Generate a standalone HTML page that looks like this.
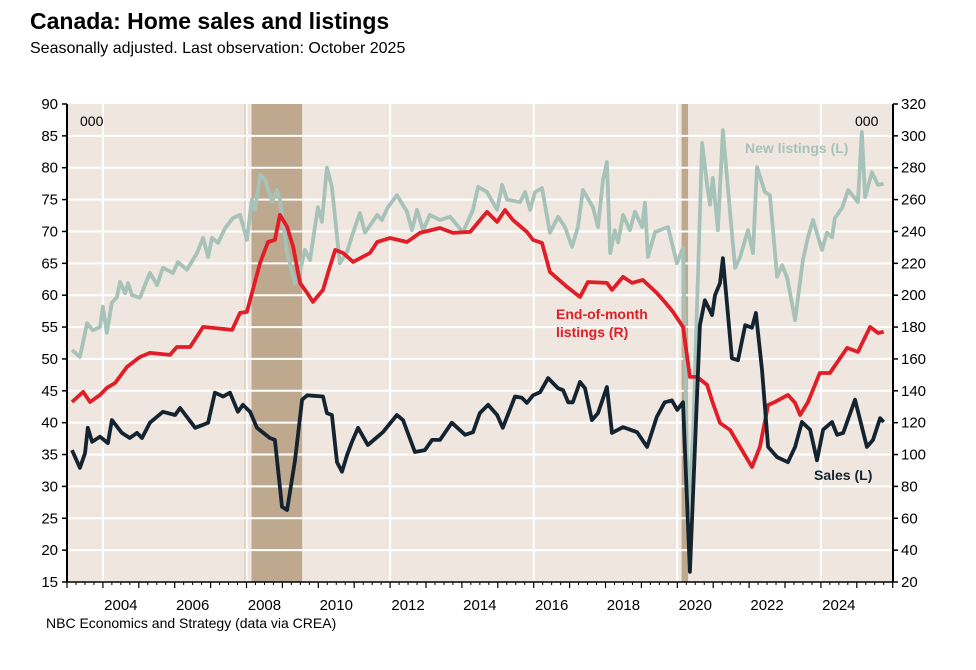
<!DOCTYPE html>
<html><head><meta charset="utf-8"><style>
body{margin:0;background:#fff;width:976px;height:670px;overflow:hidden;font-family:"Liberation Sans",Arial,sans-serif}
#title{position:absolute;left:30px;top:8px;font-size:23px;font-weight:bold;color:#000}
#sub{position:absolute;left:30px;top:40px;font-size:16px;color:#000}
svg{position:absolute;left:0;top:0}
</style></head><body>
<div id="title">Canada: Home sales and listings</div>
<div id="sub">Seasonally adjusted. Last observation: October 2025</div>
<svg id="c" width="976" height="670"></svg>
<script>
const xTickYears=[2004,2006,2008,2010,2012,2014,2016,2018,2020,2022,2024];
const leftTicks=[15,20,25,30,35,40,45,50,55,60,65,70,75,80,85,90];
const rightTicks=[20,40,60,80,100,120,140,160,180,200,220,240,260,280,300,320];
const recessions=[[2007.95,2008.0],[2008.14,2009.55],[2020.12,2020.3]];
const newDates=[2003.14,2003.36,2003.56,2003.72,2003.92,2004.00,2004.11,2004.25,2004.39,2004.48,2004.62,2004.70,2004.81,2005.03,2005.31,2005.51,2005.67,2005.95,2006.09,2006.34,2006.62,2006.79,2006.93,2007.04,2007.21,2007.40,2007.62,2007.82,2008.01,2008.15,2008.24,2008.38,2008.52,2008.71,2008.85,2008.93,2009.13,2009.35,2009.43,2009.63,2009.77,2009.99,2010.10,2010.24,2010.38,2010.60,2010.80,2010.97,2011.16,2011.30,2011.64,2011.77,2011.94,2012.19,2012.47,2012.61,2012.75,2012.92,2013.11,2013.39,2013.67,2014.03,2014.31,2014.45,2014.70,2014.98,2015.12,2015.26,2015.62,2015.76,2015.90,2016.04,2016.23,2016.45,2016.68,2016.87,2017.07,2017.23,2017.37,2017.65,2017.79,2017.93,2018.04,2018.13,2018.26,2018.35,2018.49,2018.68,2018.82,2019.02,2019.10,2019.18,2019.38,2019.74,2019.99,2020.16,2020.30,2020.44,2020.69,2020.83,2020.91,2020.99,2021.13,2021.27,2021.47,2021.61,2021.75,2021.97,2022.11,2022.22,2022.44,2022.58,2022.78,2022.92,2023.06,2023.28,2023.50,2023.64,2023.78,2024.03,2024.17,2024.31,2024.39,2024.59,2024.76,2025.03,2025.14,2025.23,2025.42,2025.59,2025.75];
const newListings=[51.4,50.3,55.6,54.5,55.0,58.2,54.1,58.8,59.7,62.1,60.3,61.9,60.0,59.6,63.5,61.6,64.3,63.5,65.2,64.0,66.6,69.0,66.0,69.0,68.2,70.5,72.1,72.6,68.7,75.0,73.4,78.9,78.1,74.6,76.5,75.0,66.6,61.9,62.4,67.1,65.5,73.8,71.5,80.0,77.0,65.0,66.8,69.8,72.9,69.8,72.6,71.8,73.8,75.7,73.1,70.2,73.4,70.2,72.6,71.8,72.3,69.9,73.4,77.0,76.2,73.4,77.3,75.0,74.6,76.2,73.4,76.2,76.8,69.8,72.3,70.7,67.6,70.7,76.5,73.8,70.7,78.1,80.9,66.6,70.2,68.3,72.6,70.2,73.1,70.7,74.5,66.0,69.9,70.7,65.0,67.4,25.8,38.4,83.9,77.3,74.2,78.4,70.2,85.9,72.9,64.3,66.0,70.2,66.6,80.1,76.2,75.7,62.9,64.7,62.7,56.1,65.5,69.1,71.8,67.1,69.8,69.1,72.1,73.7,76.5,74.6,85.6,75.4,79.3,77.3,77.5];
const eomDates=[2003.14,2003.45,2003.64,2003.92,2004.11,2004.34,2004.67,2005.03,2005.31,2005.87,2006.06,2006.43,2006.79,2007.60,2007.82,2008.01,2008.38,2008.60,2008.79,2008.93,2009.13,2009.30,2009.49,2009.69,2009.85,2010.13,2010.27,2010.47,2010.69,2010.97,2011.44,2011.64,2012.00,2012.47,2012.83,2013.39,2013.75,2014.23,2014.70,2014.98,2015.20,2015.42,2015.81,2015.98,2016.23,2016.45,2016.93,2017.29,2017.51,2018.04,2018.18,2018.49,2018.74,2019.04,2019.43,2019.65,2019.88,2020.16,2020.35,2020.55,2020.83,2020.99,2021.19,2021.47,2021.75,2022.08,2022.30,2022.53,2022.72,2023.08,2023.28,2023.42,2023.64,2023.97,2024.25,2024.73,2025.03,2025.37,2025.59,2025.75];
const eomListings=[133.0,139.3,133.0,137.4,141.8,144.9,155.0,161.2,163.8,162.5,167.5,167.5,180.1,178.2,188.9,189.5,220.3,233.4,234.7,250.4,242.9,230.3,207.7,201.4,195.8,203.3,214.0,228.4,226.5,220.9,226.5,233.4,235.9,233.4,239.1,242.2,239.1,239.7,252.3,246.0,253.5,247.2,239.7,234.7,232.8,214.6,205.2,198.9,208.3,207.7,203.3,211.5,207.7,209.6,201.4,195.8,189.5,180.1,148.7,148.7,143.7,132.4,119.8,115.4,104.7,92.2,104.7,131.1,133.0,137.4,132.4,124.8,133.0,151.2,151.2,166.9,164.4,180.1,176.3,177.0];
const salesDates=[2003.14,2003.36,2003.50,2003.58,2003.70,2003.92,2004.14,2004.25,2004.53,2004.75,2004.95,2005.09,2005.31,2005.67,2006.01,2006.15,2006.57,2006.76,2006.93,2007.12,2007.35,2007.54,2007.76,2007.90,2008.10,2008.29,2008.65,2008.79,2008.99,2009.13,2009.35,2009.55,2009.69,2010.13,2010.24,2010.38,2010.52,2010.66,2010.80,2010.94,2011.11,2011.38,2011.80,2012.19,2012.36,2012.69,2012.97,2013.17,2013.39,2013.72,2014.09,2014.31,2014.50,2014.73,2014.98,2015.14,2015.48,2015.67,2015.81,2015.98,2016.18,2016.40,2016.68,2016.82,2016.96,2017.09,2017.29,2017.43,2017.62,2017.79,2018.04,2018.18,2018.49,2018.88,2019.16,2019.43,2019.65,2019.85,2020.00,2020.16,2020.35,2020.63,2020.77,2020.97,2021.05,2021.19,2021.27,2021.52,2021.69,2021.89,2022.08,2022.19,2022.36,2022.53,2022.78,2023.08,2023.28,2023.47,2023.70,2023.89,2024.06,2024.31,2024.45,2024.62,2024.95,2025.28,2025.45,2025.65,2025.75];
const sales=[35.7,32.9,35.2,39.2,37.0,37.8,36.8,40.4,38.4,37.6,38.4,37.6,40.0,41.7,41.2,42.3,39.2,39.6,40.0,44.7,44.1,44.7,41.7,42.8,41.7,39.2,37.6,37.3,26.8,26.3,34.1,43.6,44.3,44.1,41.5,41.2,33.8,32.3,34.9,37.0,39.2,36.5,38.5,41.2,40.4,35.4,35.7,37.3,37.3,40.0,38.1,38.5,41.5,42.8,41.2,39.2,44.1,43.9,43.1,44.3,44.8,47.0,45.4,45.1,43.2,43.2,46.4,45.4,40.4,41.5,45.6,38.4,39.3,38.5,36.2,40.9,43.2,43.5,42.0,43.2,16.6,55.3,59.2,56.9,60.0,61.9,65.8,50.1,49.8,55.3,54.9,57.2,48.3,36.2,34.6,33.8,36.2,40.1,38.9,34.1,38.9,40.1,38.1,38.4,43.6,36.2,37.3,40.7,40.1];

const L=67,R=893,T=104,B=582;
const X=t=>L+(t-2003)*35.9;
const YL=v=>B-(v-15)*(B-T)/75;
const YR=v=>B-(v-20)*(B-T)/300;
const NS='http://www.w3.org/2000/svg';
const svg=document.getElementById('c');
function mk(tag,attrs,parent){const e=document.createElementNS(NS,tag);for(const k in attrs)e.setAttribute(k,attrs[k]);(parent||svg).appendChild(e);return e;}
function txt(s,attrs){const e=mk('text',attrs);e.textContent=s;return e;}

let bg=mk('rect',{x:L,y:T,width:R-L,height:B-T,fill:'#efe7df'});


recessions.forEach(r=>{
  const e=mk('rect',{x:X(r[0]),y:T,width:X(r[1])-X(r[0]),height:B-T,fill:'#bea98f'});
  
  
});
leftTicks.forEach(v=>{
  if(v>15&&v<90){const g=mk('line',{x1:L,x2:R,y1:YL(v),y2:YL(v),stroke:'#fff','stroke-width':2});
  
  }
  const t=txt(String(v),{x:L-9,y:YL(v)+5,'text-anchor':'end','font-size':15,fill:'#000'});
  
  
  mk('line',{x1:L-5,x2:L,y1:YL(v),y2:YL(v),stroke:'#000','stroke-width':1.5});
});
rightTicks.forEach(v=>{
  const t=txt(String(v),{x:R+8,y:YR(v)+5,'text-anchor':'start','font-size':15,fill:'#000'});
  
  
  mk('line',{x1:R,x2:R+5,y1:YR(v),y2:YR(v),stroke:'#000','stroke-width':1.5});
});
[2004,2008,2012,2016,2020,2024].forEach(y=>{
  const g=mk('line',{x1:X(y),x2:X(y),y1:T,y2:B,stroke:'#fff','stroke-width':2});
  
  
});
for(let y=2003;y<=2026;y++){
  mk('line',{x1:X(y),x2:X(y),y1:B,y2:B+6,stroke:'#000','stroke-width':1.2});
  for(let q=1;q<4;q++){if(y<2026)mk('line',{x1:X(y+q/4),x2:X(y+q/4),y1:B,y2:B+3,stroke:'#000','stroke-width':1});}
}
xTickYears.forEach(y=>{
  const t=txt(String(y),{x:X(y+0.5),y:B+28,'text-anchor':'middle','font-size':15,fill:'#000'});
  
  
});
mk('line',{x1:L,x2:R,y1:B,y2:B,stroke:'#000','stroke-width':1.5});
mk('line',{x1:L,x2:L,y1:T,y2:B,stroke:'#000','stroke-width':2});
mk('line',{x1:R,x2:R,y1:T,y2:B,stroke:'#000','stroke-width':2});

function series(d,v,yf,color,name){
  const p=d.map((t,i)=>(i?'L':'M')+X(t).toFixed(1)+','+yf(v[i]).toFixed(1)).join('');
  const e=mk('path',{d:p,fill:'none',stroke:color,'stroke-width':3.8,'stroke-linejoin':'round'});
  
  
}
series(newDates,newListings,YL,'#a7c2b8','new-listings-line');
series(eomDates,eomListings,YR,'#e11d27','end-of-month-listings-line');
series(salesDates,sales,YL,'#142330','sales-line');

let a=txt('000',{x:80,y:126,'font-size':14,fill:'#000'});


a=txt('000',{x:855,y:126,'font-size':14,fill:'#000'});


a=txt('New listings (L)',{x:745,y:153,'font-size':14,'font-weight':'bold',fill:'#a7c2b8'});


a=txt('End-of-month',{x:556,y:319,'font-size':14,'font-weight':'bold',fill:'#e11d27'});


a=txt('listings (R)',{x:556,y:337,'font-size':14,'font-weight':'bold',fill:'#e11d27'});


a=txt('Sales (L)',{x:814,y:480,'font-size':14,'font-weight':'bold',fill:'#142330'});


a=txt('NBC Economics and Strategy (data via CREA)',{x:46,y:628,'font-size':14,fill:'#000'});


</script>
</body></html>
